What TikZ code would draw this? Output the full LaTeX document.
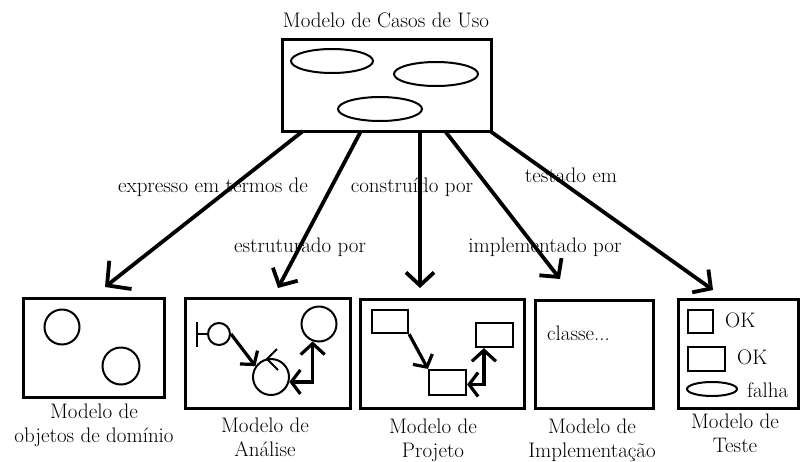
\documentclass[tikz,border=0pt]{standalone}
\usetikzlibrary{arrows.meta,calc}
\begin{document}
\begin{tikzpicture}[x=1pt,y=-1pt,
  txt/.style={font=\fontsize{21}{24}\selectfont, inner sep=0pt, align=center},
  panel/.style={draw, line width=2.6pt, inner sep=0pt, anchor=north west},
  blob/.style={draw, circle, line width=2pt, inner sep=0pt},
  cls/.style={draw, rectangle, line width=2.2pt, inner sep=0pt},
  link/.style={line width=3.8pt, -{Straight Barb[length=13pt,width=28pt]}},
  biglink/.style={line width=3.8pt, -{Straight Barb[length=17pt,width=36pt]}},
  msg/.style={line width=3.2pt, -{Straight Barb[length=9pt,width=22pt]}},
  twoway/.style={line width=3.2pt, {Straight Barb[length=9pt,width=24pt]}-{Straight Barb[length=11pt,width=24pt]}}
]
\useasboundingbox (0,0) rectangle (800,461);

% use-case model at the top
\node[txt] (title) at (386,20) {Modelo de Casos de Uso};
\node[panel, minimum width=209pt, minimum height=92pt] (uc) at (281,38) {};
\draw[line width=2pt] (332,61) ellipse [x radius=41, y radius=12];
\draw[line width=2pt] (436,74) ellipse [x radius=42, y radius=12];
\draw[line width=2pt] (380,109) ellipse [x radius=42, y radius=12];

% the five derived models
\node[panel, minimum width=141pt, minimum height=99pt] (dom) at (22,297) {};
\node[panel, minimum width=165pt, minimum height=110pt] (ana) at (184,297) {};
\node[panel, minimum width=164pt, minimum height=109pt] (prj) at (359,298) {};
\node[panel, minimum width=118pt, minimum height=108pt] (imp) at (534,299) {};
\node[panel, minimum width=120pt, minimum height=109pt] (tst) at (677,298) {};

% captions
\node[txt] (domcap) at (94,425) {Modelo de\\objetos de dom\'inio};
\node[txt] (anacap) at (265,437) {Modelo de\\An\'alise};
\node[txt] (prjcap) at (433,440) {Modelo de\\Projeto};
\node[txt] (impcap) at (592,440) {Modelo de\\Implementa\c{c}\~ao};
\node[txt] (tstcap) at (735,433) {Modelo de\\Teste};

% arrows from the use-case model
\coordinate (s1) at (303,131); \coordinate (e1) at (105,287);
\coordinate (s2) at (361,131); \coordinate (e2) at (278,288);
\coordinate (s3) at (420,131); \coordinate (e3) at (420,288);
\coordinate (s4) at (445,131); \coordinate (e4) at (560,279);
\coordinate (s5) at (490,131); \coordinate (e5) at (713,290);
\draw[biglink] (s1) -- (e1);
\draw[link] (s2) -- (e2);
\draw[link] (s3) -- (e3);
\draw[link] (s4) -- (e4);
\draw[link] (s5) -- (e5);
\node[txt] (l1) at (213,187) {expresso em termos de};
\node[txt] (l2) at (300,247) {estruturado por};
\node[txt] (l3) at (412,187) {constru\'ido por};
\node[txt] (l4) at (545,247) {implementado por};
\node[txt] (l5) at (571,175) {testado em};

% domain objects
\node[blob, minimum size=35pt] (o1) at (62,327) {};
\node[blob, minimum size=37pt] (o2) at (121,366) {};

% analysis: boundary, control and entity
\node[blob, minimum size=22pt] (bnd) at (219,334) {};
\draw[line width=2pt] (197,322) -- (197,347);
\draw[line width=2pt] (197,334) -- (bnd.west);
\node[blob, minimum size=36pt] (ctl) at (271,377) {};
\draw[line width=2pt] (277,349) -- (267,359) -- (278,370);
\node[blob, minimum size=35pt] (ent) at (319,324) {};
\draw[msg] (bnd.east) -- (ctl.145);
\draw[twoway] (ctl.-15) -| (ent.-110);

% design classes
\node[cls, minimum width=36pt, minimum height=23pt] (r1) at (390,321.5) {};
\node[cls, minimum width=37pt, minimum height=24pt] (r2) at (494.5,335) {};
\node[cls, minimum width=37pt, minimum height=25pt] (r3) at (447.5,382.5) {};
\draw[msg] (r1.south east) -- (r3.north west);
\draw[twoway] ($(r3.east)+(0,2)$) -| ($(r2.south west)+(9,0)$);

% implementation
\node[txt, anchor=west] (cl) at (547,333) {classe...};

% test cases
\node[cls, minimum width=25pt, minimum height=23pt] (t1) at (700.5,321.5) {};
\node[cls, minimum width=37pt, minimum height=24pt] (t2) at (706.5,359) {};
\draw[line width=2pt] (712,389) ellipse [x radius=25, y radius=7];
\node[txt, anchor=west] (ok1) at (725,320) {OK};
\node[txt, anchor=west] (ok2) at (737,357) {OK};
\node[txt, anchor=west] (fl) at (747,390) {falha};
\end{tikzpicture}
\end{document}
